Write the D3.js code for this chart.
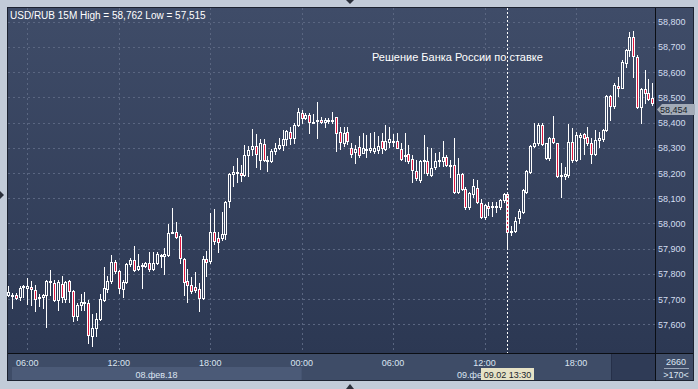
<!DOCTYPE html>
<html>
<head>
<meta charset="utf-8">
<script src="https://cdn.jsdelivr.net/npm/d3@7"></script>
<style>
  html, body { margin: 0; padding: 0; background: #c2cbd8; }
  svg { display: block; font-family: "Liberation Sans", Arial, sans-serif; }
</style>
</head>
<body>
<svg id="chart" width="698" height="389"></svg>
<script>
// 15M bars, first bar 08.02.2018 04:45
var barStart = Date.UTC(2018, 1, 8, 4, 45);
var barMinutes = 15;

var opens = [57717,57713,57716,57708,57746,57742,57748,57737,57708,57708,57715,57766,57763,57697,57759,57700,57773,57733,57631,57678,
  57687,57684,57555,57584,57621,57695,57741,57770,57847,57810,57740,57767,57839,57854,57819,57832,57833,57843,57819,57843,
  57873,57869,57876,57964,57965,57951,57858,57770,57754,57748,57741,57704,57858,57852,57968,57944,57944,57958,58087,58195,
  58203,58199,58193,58271,58296,58308,58252,58316,58248,58248,58288,58298,58310,58335,58362,58338,58391,58437,58417,58430,
  58401,58408,58411,58404,58409,58412,58421,58362,58318,58362,58301,58285,58305,58281,58296,58292,58289,58292,58327,58296,
  58322,58321,58327,58296,58269,58275,58256,58209,58173,58248,58248,58193,58222,58248,58246,58264,58231,58231,58125,58196,
  58138,58066,58118,58142,58083,58026,58070,58066,58066,58066,58092,58116,57966,57970,58023,58046,58125,58205,58307,58317,
  58389,58258,58258,58337,58317,58188,58188,58191,58324,58251,58341,58353,58344,58317,58277,58331,58333,58370,58505,58466,
  58546,58538,58638,58688,58741,58659,58460,58532,58516,58496];
var highs = [57753,57726,57724,57753,57757,57783,57770,57757,57721,57721,57777,57816,57777,57777,57793,57770,57777,57737,57684,57721,
  57730,57695,57642,57645,57721,57829,57790,57876,57856,57816,57777,57845,57862,57911,57878,57843,57849,57886,57886,57886,
  57878,57902,57997,58063,58005,57957,57862,57819,57786,57806,57763,57869,57891,58041,58058,57968,58045,58089,58199,58228,
  58259,58230,58310,58309,58374,58355,58334,58334,58268,58296,58318,58338,58371,58371,58384,58400,58457,58450,58437,58437,
  58433,58483,58421,58417,58417,58440,58424,58384,58384,58384,58318,58312,58345,58358,58351,58358,58364,58345,58358,58391,
  58384,58355,58358,58318,58358,58312,58272,58252,58252,58351,58305,58298,58279,58285,58325,58271,58251,58340,58258,58201,
  58145,58125,58176,58172,58096,58079,58086,58086,58086,58095,58119,58119,57989,58026,58059,58138,58211,58311,58397,58399,
  58399,58320,58344,58426,58320,58240,58225,58394,58377,58364,58357,58357,58383,58337,58370,58364,58373,58509,58509,58556,
  58582,58648,58691,58761,58762,58668,58536,58608,58571,58556];
var lows = [57711,57664,57700,57695,57708,57680,57678,57651,57671,57664,57588,57717,57691,57658,57687,57687,57687,57612,57616,57658,
  57658,57526,57515,57552,57618,57691,57728,57763,57803,57724,57708,57763,57832,57812,57816,57744,57827,57810,57816,57840,
  57829,57799,57869,57961,57942,57843,57715,57688,57726,57728,57651,57700,57790,57845,57919,57885,57935,57939,58067,58149,
  58166,58170,58190,58190,58272,58223,58215,58246,58206,58242,58276,58296,58292,58312,58316,58318,58387,58397,58413,58358,
  58397,58338,58397,58384,58397,58397,58289,58294,58308,58316,58265,58239,58265,58279,58263,58285,58281,58281,58279,58292,
  58302,58308,58298,58252,58246,58239,58163,58173,58166,58199,58193,58189,58215,58226,58228,58227,58185,58121,58121,58132,
  58059,58059,58105,58082,58023,58019,58032,58029,58046,58059,58086,57907,57953,57966,58002,58042,58121,58201,58304,58311,
  58311,58254,58251,58317,58185,58105,58178,58185,58244,58248,58254,58277,58313,58240,58271,58304,58328,58367,58410,58456,
  58505,58536,58622,58662,58582,58456,58397,58476,58489,58470];
var closes = [57730,57717,57704,57744,57753,57750,57740,57700,57703,57717,57773,57773,57695,57766,57708,57767,57734,57631,57678,57688,
  57689,57556,57585,57621,57700,57744,57773,57847,57810,57744,57767,57840,57854,57816,57832,57836,57843,57819,57843,57880,
  57876,57880,57964,57968,57948,57862,57767,57754,57734,57737,57704,57858,57849,57968,57931,57928,57959,58084,58195,58203,
  58199,58194,58271,58292,58308,58276,58318,58250,58252,58288,58298,58312,58335,58367,58338,58391,58441,58420,58430,58401,
  58404,58411,58404,58409,58412,58405,58358,58322,58358,58325,58276,58296,58272,58301,58293,58301,58301,58308,58298,58327,
  58334,58327,58301,58256,58272,58248,58213,58180,58248,58252,58199,58219,58248,58252,58263,58231,58228,58125,58198,58138,
  58066,58121,58149,58085,58026,58075,58063,58070,58070,58092,58116,57966,57970,58009,58048,58132,58207,58307,58317,58389,
  58315,58317,58337,58324,58188,58194,58198,58324,58251,58350,58350,58337,58317,58277,58331,58337,58370,58505,58466,58549,
  58538,58642,58688,58741,58662,58460,58532,58516,58492,58476];

var priceTicks = [57600,57700,57800,57900,58000,58100,58200,58300,58400,58500,58600,58700,58800];
var header = "USD/RUB 15M High = 58,762 Low = 57,515";
var lastPrice = 58454;
var note = "Решение Банка России по ставке";
var cursorTime = Date.UTC(2018, 1, 9, 13, 30);
var dayLabels = ["08.фев.18", "09.фев.18"];
var footer = ["2660", ">170<"];

var W = 698, H = 389;
var plot = {left: 8, top: 8, right: 655, bottom: 353};

var svg = d3.select("#chart");
var defs = svg.append("defs");
var grad = defs.append("linearGradient").attr("id", "bg")
  .attr("gradientUnits", "userSpaceOnUse")
  .attr("x1", 0).attr("y1", plot.top).attr("x2", 0).attr("y2", plot.bottom);
grad.append("stop").attr("offset", 0).attr("stop-color", "#3f4c68");
grad.append("stop").attr("offset", 1).attr("stop-color", "#2c3853");
// the cursor tag hides the rest of the 2nd day label
defs.append("clipPath").attr("id", "dayclip")
  .append("rect").attr("x", 301).attr("y", 354).attr("width", 180).attr("height", 27);

var times = opens.map(function(d, i){ return new Date(barStart + i * barMinutes * 60000); });

var x = d3.scaleUtc()
  .domain([new Date(Date.UTC(2018, 1, 8, 6)), new Date(Date.UTC(2018, 1, 9, 18))])
  .range([27.3, 576]);
var y = d3.scaleLinear().domain([57600, 58800]).range([324.3, 21.7]);

// frame
svg.append("rect").attr("x", 0).attr("y", 0).attr("width", W).attr("height", H).attr("fill", "#c2cbd8");
svg.append("rect").attr("x", 7.5).attr("y", 7.5).attr("width", 686).attr("height", 373)
  .attr("fill", "#3e4c67").attr("stroke", "#1c2230");
svg.append("rect").attr("x", 8).attr("y", 8).attr("width", 685).attr("height", plot.bottom - 8)
  .attr("fill", "url(#bg)");

// bottom strip
svg.append("rect").attr("x", 12).attr("y", 367).attr("width", x(new Date(Date.UTC(2018,1,9,0))) - 12).attr("height", 13)
  .attr("fill", "#4b5a77");
svg.append("rect").attr("x", 611).attr("y", 354).attr("width", 44).attr("height", 26).attr("fill", "#2f3b56");
svg.append("line").attr("x1", 611.5).attr("x2", 611.5).attr("y1", 354).attr("y2", 380).attr("stroke", "#263049");

// grid
var timeTicks = d3.utcHour.every(6).range(x.domain()[0], new Date(+x.domain()[1] + 1));
var grid = svg.append("g").attr("stroke", "#5a6681").attr("stroke-dasharray", "2,3");
grid.selectAll("line.h").data(priceTicks).enter().append("line")
  .attr("x1", plot.left).attr("x2", plot.right)
  .attr("y1", function(d){ return Math.round(y(d)) + 0.5; })
  .attr("y2", function(d){ return Math.round(y(d)) + 0.5; });
grid.selectAll("line.v").data(timeTicks).enter().append("line")
  .attr("y1", plot.top).attr("y2", plot.bottom)
  .attr("x1", function(d){ return Math.round(x(d)) + 0.5; })
  .attr("x2", function(d){ return Math.round(x(d)) + 0.5; });

// candles
var candles = svg.append("g");
times.forEach(function(t, i){
  var cx = Math.round(x(t));
  var o = opens[i], c = closes[i];
  var top = Math.round(y(Math.max(o, c)));
  var bot = Math.round(y(Math.min(o, c)));
  if (bot - top < 1) bot = top + 1;
  var yh = Math.round(y(highs[i])), yl = Math.round(y(lows[i]));
  candles.append("line").attr("x1", cx + 0.5).attr("x2", cx + 0.5)
    .attr("y1", yh).attr("y2", top).attr("stroke", "#fff");
  candles.append("line").attr("x1", cx + 0.5).attr("x2", cx + 0.5)
    .attr("y1", bot + 1).attr("y2", yl + 1).attr("stroke", "#fff");
  candles.append("rect")
    .attr("x", cx - 0.5).attr("y", top + 0.5)
    .attr("width", 2).attr("height", bot - top)
    .attr("fill", c < o ? "#e0163e" : "url(#bg)")
    .attr("stroke", "#fff");
});

// crosshair
var cxh = Math.round(x(new Date(cursorTime))) + 0.5;
svg.append("line").attr("x1", cxh).attr("x2", cxh).attr("y1", plot.top).attr("y2", plot.bottom)
  .attr("stroke", "#fff").attr("stroke-dasharray", "2,2");

// axis separators
svg.append("line").attr("x1", plot.right + 0.5).attr("x2", plot.right + 0.5).attr("y1", 8).attr("y2", 381)
  .attr("stroke", "#0b0e14");
svg.append("line").attr("x1", 8).attr("x2", 693).attr("y1", plot.bottom + 0.5).attr("y2", plot.bottom + 0.5)
  .attr("stroke", "#0b0e14");

// price axis
svg.append("g").selectAll("text").data(priceTicks).enter().append("text")
  .attr("x", 658).attr("y", function(d){ return y(d) + 3.5; })
  .attr("fill", "#d3def0").attr("font-size", "9px")
  .text(function(d){ return d3.format(",")(d); });

// last price label
var ly = Math.round(y(lastPrice));
svg.append("path")
  .attr("d", "M657," + (ly + 0.5) + " L662," + (ly - 5) + " L695," + (ly - 5) + " L695," + (ly + 6) + " L662," + (ly + 6) + " Z")
  .attr("fill", "#a3abb7");
svg.append("text").attr("x", 660).attr("y", ly + 4).attr("font-size", "9px").attr("fill", "#151b28")
  .text(d3.format(",")(lastPrice));

// time axis
svg.append("g").selectAll("text").data(timeTicks).enter().append("text")
  .attr("x", function(d){ return x(d); }).attr("y", 366)
  .attr("text-anchor", "middle").attr("fill", "#dbe4f1").attr("font-size", "9px")
  .text(d3.utcFormat("%H:%M"));
svg.append("text").attr("x", 156.5).attr("y", 378).attr("text-anchor", "middle")
  .attr("fill", "#dbe4f1").attr("font-size", "9px").text(dayLabels[0]);
svg.append("text").attr("x", 457).attr("y", 378).attr("clip-path", "url(#dayclip)")
  .attr("fill", "#dbe4f1").attr("font-size", "9px").text(dayLabels[1]);

// cursor time tag
svg.append("rect").attr("x", 481).attr("y", 368).attr("width", 53).attr("height", 12).attr("fill", "#e6e2c6");
svg.append("text").attr("x", 507.5).attr("y", 377.5).attr("text-anchor", "middle")
  .attr("fill", "#1a1f2b").attr("font-size", "9px").text(d3.utcFormat("%d.%m %H:%M")(new Date(cursorTime)));

// bottom right box
svg.append("text").attr("x", 676).attr("y", 365).attr("text-anchor", "middle")
  .attr("fill", "#dbe4f1").attr("font-size", "9px").text(footer[0]);
svg.append("line").attr("x1", 664).attr("x2", 689).attr("y1", 368.5).attr("y2", 368.5).attr("stroke", "#9aa6b8");
svg.append("text").attr("x", 676).attr("y", 377.5).attr("text-anchor", "middle")
  .attr("fill", "#dbe4f1").attr("font-size", "9px").text(footer[1]);

// header + note
svg.append("text").attr("x", 10).attr("y", 18.5).attr("fill", "#fff").attr("font-size", "10px").text(header);
svg.append("text").attr("x", 372).attr("y", 60.5).attr("fill", "#fff").attr("font-size", "11px").text(note);

// scroll arrows
svg.append("path").attr("d", "M346,0 L354,0 L350,4 Z").attr("fill", "#2a2f3a");
svg.append("path").attr("d", "M346,389 L354,389 L350,384 Z").attr("fill", "#2a2f3a");
svg.append("path").attr("d", "M0,191 L0,199 L4,195 Z").attr("fill", "#2a2f3a");
</script>
</body>
</html>
